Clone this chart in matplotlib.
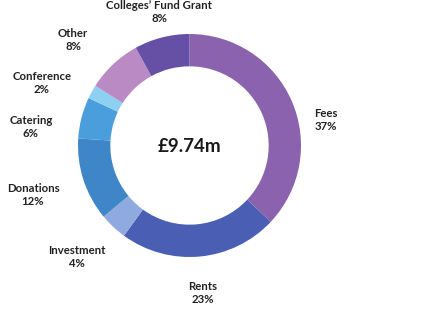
import matplotlib
matplotlib.use("Agg")
import matplotlib.pyplot as plt

labels = ["Fees", "Rents", "Investment", "Donations", "Catering", "Conference", "Other", "Colleges\u2019 Fund Grant"]
values = [37, 23, 4, 12, 6, 2, 8, 8]
colors = ["#8A62AE", "#4A5EB4", "#8FAADF", "#3E86C8", "#4A9EDB", "#8DD0F2", "#B98AC4", "#6650A6"]
total_label = "\u00a39.74m"

# label anchor positions in pixels (x, y from top)
label_pos = [(326, 120), (203, 293), (77, 257), (33, 195), (31, 127), (42, 83), (73, 40), (159, 12)]

W, H = 445, 315
fig = plt.figure(figsize=(W / 100, H / 100), dpi=100)
fig.patch.set_facecolor("white")

cx, cy, R = 189.5, 145.5, 111.5
ax = fig.add_axes([(cx - R) / W, (H - cy - R) / H, 2 * R / W, 2 * R / H])
ax.pie(values, colors=colors, startangle=90, counterclock=False, radius=1,
       wedgeprops=dict(width=0.29, linewidth=0))
ax.set_xlim(-1, 1)
ax.set_ylim(-1, 1)
ax.set_aspect("equal")
ax.axis("off")

ax.text(0, -0.01, total_label, ha="center", va="center", fontsize=13.5,
        fontweight="bold", family="Lato", color="#1a1a1a")

for lab, v, (px, py) in zip(labels, values, label_pos):
    fig.text(px / W, 1 - py / H, f"{lab}\n{v}%", ha="center", va="center",
             fontsize=8.2, fontweight="bold", family="Lato", color="#222222",
             linespacing=1.3)

fig.savefig("out.png", dpi=100, facecolor="white")
